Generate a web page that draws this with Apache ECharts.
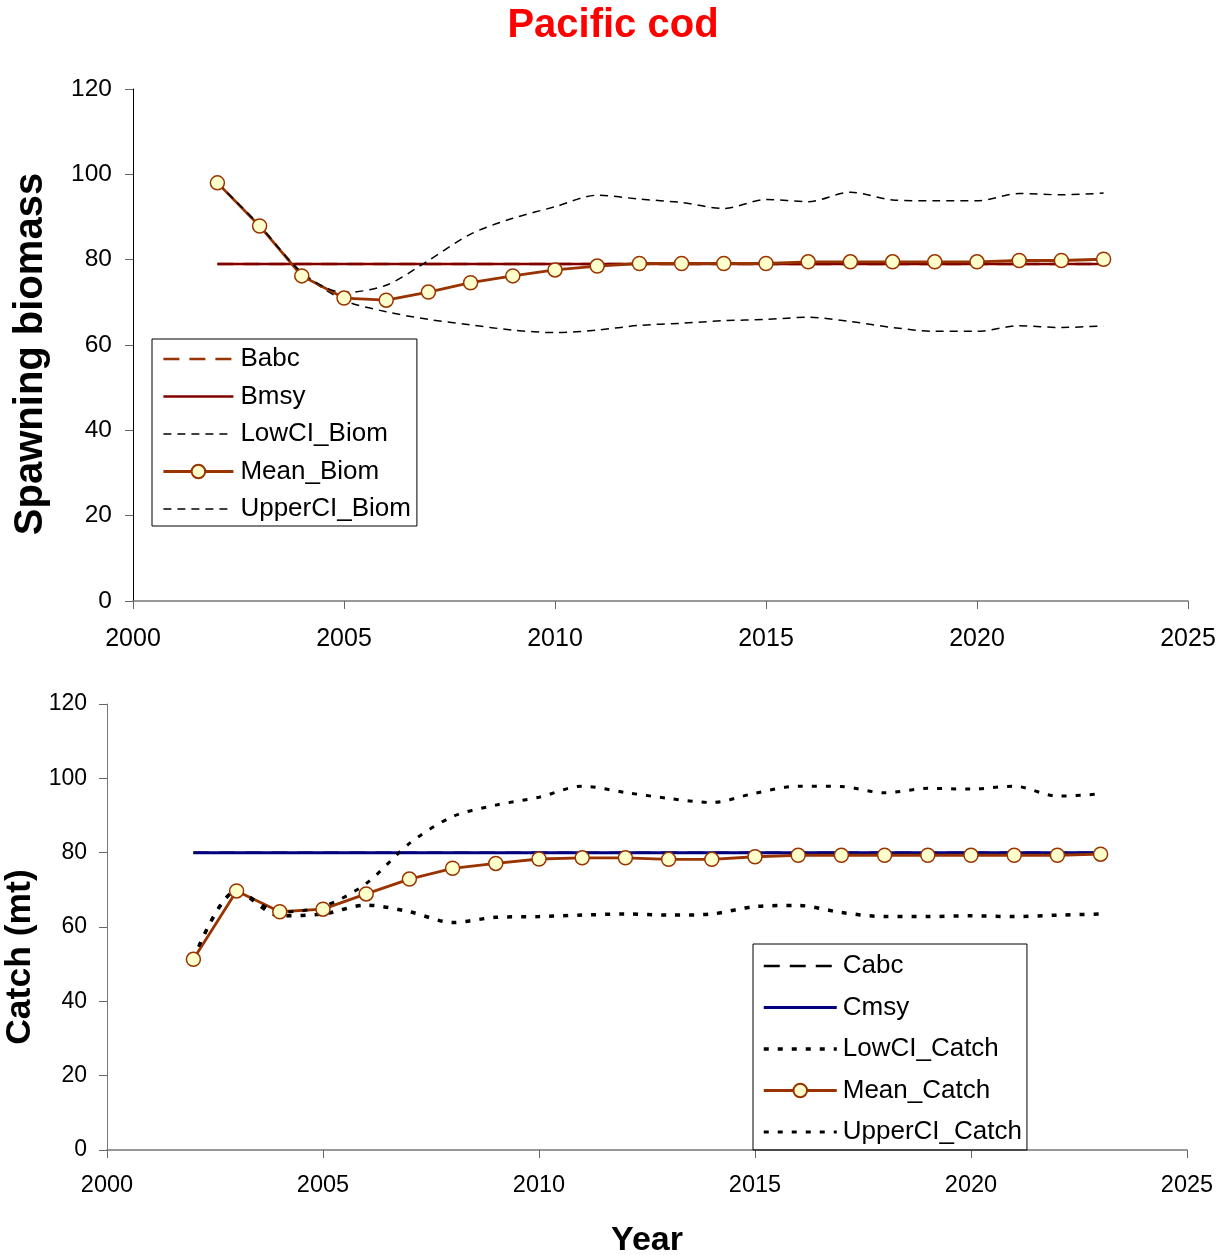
<!DOCTYPE html>
<html>
<head>
<meta charset="utf-8">
<script src="https://cdn.jsdelivr.net/npm/echarts@6/dist/echarts.min.js"></script>
<style>
  html, body { margin: 0; padding: 0; background: #fff; }
  #chart { width: 1228px; height: 1255px; }
</style>
</head>
<body>
<div id="chart"></div>
<script>
// years shared by both panels
var years = [2002, 2003, 2004, 2005, 2006, 2007, 2008, 2009, 2010, 2011, 2012,
             2013, 2014, 2015, 2016, 2017, 2018, 2019, 2020, 2021, 2022, 2023];

// spawning biomass panel
var babc = [79, 79, 79, 79, 79, 79, 79, 79, 79, 79, 79, 79, 79, 79, 79, 79, 79, 79, 79, 79, 79, 79];
var bmsy = [79, 79, 79, 79, 79, 79, 79, 79, 79, 79, 79, 79, 79, 79, 79, 79, 79, 79, 79, 79, 79, 79];
var lowBiom = [98, 88, 77, 70.5, 67.8, 66, 64.7, 63.5, 62.9, 63.5, 64.6,
               65.1, 65.7, 66, 66.5, 65.5, 64.1, 63.2, 63.2, 64.5, 64.1, 64.5];
var meanBiom = [98, 87.9, 76.2, 71, 70.5, 72.4, 74.6, 76.2, 77.6, 78.5, 79.1,
                79.1, 79.1, 79.1, 79.5, 79.5, 79.5, 79.5, 79.5, 79.8, 79.8, 80.1];
var upperBiom = [98, 88, 77, 72.3, 74, 79.8, 86, 89.7, 92.4, 95.1, 94.2,
                 93.4, 92, 94.1, 93.6, 95.8, 94, 93.8, 93.8, 95.5, 95.2, 95.6];

// catch panel
var cabc = [80, 80, 80, 80, 80, 80, 80, 80, 80, 80, 80, 80, 80, 80, 80, 80, 80, 80, 80, 80, 80, 80];
var cmsy = [80, 80, 80, 80, 80, 80, 80, 80, 80, 80, 80, 80, 80, 80, 80, 80, 80, 80, 80, 80, 80, 80];
var lowCatch = [51.3, 69.7, 63, 63.5, 65.9, 64.1, 61.2, 62.6, 62.8, 63.2, 63.5,
                63.2, 63.5, 65.5, 65.8, 63.9, 62.8, 62.8, 63, 62.8, 63.2, 63.5];
var meanCatch = [51.3, 69.7, 64.1, 64.8, 68.9, 72.9, 75.8, 77.1, 78.3, 78.6, 78.6,
                 78.2, 78.2, 78.9, 79.3, 79.3, 79.3, 79.3, 79.3, 79.3, 79.3, 79.6];
var upperCatch = [51.3, 69.7, 64, 65.5, 71.7, 82.5, 89.7, 92.8, 94.9, 97.9, 96.2,
                  94.6, 93.5, 96, 97.9, 97.8, 96.1, 97.3, 97.1, 97.9, 95.2, 95.8];

var yTicks = [0, 20, 40, 60, 80, 100, 120];
var xTicks = [2000, 2005, 2010, 2015, 2020, 2025];

function pairs(vals) {
    return years.map(function (y, i) { return [y, vals[i]]; });
}

var FONT = 'Liberation Sans, Arial, sans-serif';
var brown = '#993300';
var markerStyle = { color: '#ffffcc', borderColor: brown, borderWidth: 1.5 };

function xAxisFor(idx, size, margin, extra) {
    var ax = {
        type: 'value', gridIndex: idx,
        min: xTicks[0], max: xTicks[xTicks.length - 1], interval: 5,
        splitLine: { show: false },
        axisLine: { onZero: false, lineStyle: { color: '#777', width: 1.5 } },
        axisTick: { show: true, length: 8, lineStyle: { color: '#666' } },
        axisLabel: { color: '#000', fontFamily: FONT, fontSize: size, margin: margin,
                     formatter: function (v) { return String(v); } }
    };
    return Object.assign(ax, extra || {});
}

function yAxisFor(idx, size, margin, lineColor, name, nameSize, gap, shift) {
    return {
        type: 'value', gridIndex: idx,
        min: yTicks[0], max: yTicks[yTicks.length - 1], interval: 20,
        splitLine: { show: false },
        axisLine: { show: true, lineStyle: { color: lineColor, width: 1 } },
        axisTick: { show: true, length: 8, lineStyle: { color: '#666' } },
        axisLabel: { color: '#000', fontFamily: FONT, fontSize: size, margin: margin },
        name: name, nameLocation: 'middle', nameGap: gap,
        nameTextStyle: { color: '#000', fontFamily: FONT, fontSize: nameSize, fontWeight: 'bold',
                         padding: [0, shift, 0, 0] }
    };
}

// legend entries: plain lines hide the marker the legend icon would add
function legendItems(names, markerName) {
    return names.map(function (n) {
        return n === markerName ? { name: n } : { name: n, itemStyle: { opacity: 0 } };
    });
}

var option = {
    backgroundColor: '#fff',
    animation: false,
    title: {
        text: 'Pacific cod', left: 608, top: 1, textAlign: 'center',
        textStyle: { color: '#ff0000', fontFamily: FONT, fontSize: 40, fontWeight: 'bold' }
    },
    grid: [
        { left: 133, right: 40, top: 89, height: 512, outerBoundsMode: 'none' },
        { left: 107, right: 41, top: 704, height: 446, outerBoundsMode: 'none' }
    ],
    legend: [
        {
            orient: 'vertical', left: 152, top: 339,
            data: legendItems(['Babc', 'Bmsy', 'LowCI_Biom', 'Mean_Biom', 'UpperCI_Biom'], 'Mean_Biom'),
            itemWidth: 70, itemHeight: 17, itemGap: 11.5,
            padding: [7, 6, 4, 10],
            borderColor: '#000', borderWidth: 1,
            lineStyle: { width: 'inherit' },
            textStyle: { color: '#000', fontFamily: FONT, fontSize: 26, padding: [0, 0, 0, 2] }
        },
        {
            orient: 'vertical', left: 753, top: 944,
            data: legendItems(['Cabc', 'Cmsy', 'LowCI_Catch', 'Mean_Catch', 'UpperCI_Catch'], 'Mean_Catch'),
            itemWidth: 73, itemHeight: 17, itemGap: 15.5,
            padding: [9, 5, 5, 9],
            borderColor: '#000', borderWidth: 1,
            lineStyle: { width: 'inherit' },
            textStyle: { color: '#000', fontFamily: FONT, fontSize: 26, padding: [0, 0, 0, 1] }
        }
    ],
    xAxis: [
        xAxisFor(0, 25, 26),
        xAxisFor(1, 23.5, 24, {
            name: 'Year', nameLocation: 'middle', nameGap: 74,
            nameTextStyle: { color: '#000', fontFamily: FONT, fontSize: 34, fontWeight: 'bold' }
        })
    ],
    yAxis: [
        yAxisFor(0, 24.5, 21, '#000', 'Spawning biomass', 40, 82, 18),
        yAxisFor(1, 23, 20, '#777', 'Catch (mt)', 35.5, 62, 60)
    ],
    series: [
        { name: 'Babc', type: 'line', xAxisIndex: 0, yAxisIndex: 0, data: pairs(babc),
          symbol: 'none',
          lineStyle: { color: brown, width: 2.5, type: [16, 10] }, itemStyle: { color: brown } },
        { name: 'Bmsy', type: 'line', xAxisIndex: 0, yAxisIndex: 0, data: pairs(bmsy),
          symbol: 'none', lineStyle: { color: '#800000', width: 2.5 }, itemStyle: { color: '#800000' } },
        { name: 'LowCI_Biom', type: 'line', xAxisIndex: 0, yAxisIndex: 0, data: pairs(lowBiom),
          symbol: 'none', smooth: 0.3,
          lineStyle: { color: '#000', width: 1.5, type: [8, 6] }, itemStyle: { color: '#000' } },
        { name: 'Mean_Biom', type: 'line', xAxisIndex: 0, yAxisIndex: 0, data: pairs(meanBiom),
          symbol: 'circle', symbolSize: 14,
          lineStyle: { color: brown, width: 2.8 }, itemStyle: markerStyle, z: 3 },
        { name: 'UpperCI_Biom', type: 'line', xAxisIndex: 0, yAxisIndex: 0, data: pairs(upperBiom),
          symbol: 'none', smooth: 0.3,
          lineStyle: { color: '#000', width: 1.5, type: [8, 6] }, itemStyle: { color: '#000' } },

        { name: 'Cabc', type: 'line', xAxisIndex: 1, yAxisIndex: 1, data: pairs(cabc),
          symbol: 'none', lineStyle: { color: '#000', width: 2.5, type: [16, 10] }, itemStyle: { color: '#000' } },
        { name: 'Cmsy', type: 'line', xAxisIndex: 1, yAxisIndex: 1, data: pairs(cmsy),
          symbol: 'none', lineStyle: { color: '#000080', width: 3 }, itemStyle: { color: '#000080' } },
        { name: 'LowCI_Catch', type: 'line', xAxisIndex: 1, yAxisIndex: 1, data: pairs(lowCatch),
          symbol: 'none', smooth: 0.3,
          lineStyle: { color: '#000', width: 3.5, type: [5, 9] }, itemStyle: { color: '#000' } },
        { name: 'Mean_Catch', type: 'line', xAxisIndex: 1, yAxisIndex: 1, data: pairs(meanCatch),
          symbol: 'circle', symbolSize: 14,
          lineStyle: { color: brown, width: 2.8 }, itemStyle: markerStyle, z: 3 },
        { name: 'UpperCI_Catch', type: 'line', xAxisIndex: 1, yAxisIndex: 1, data: pairs(upperCatch),
          symbol: 'none', smooth: 0.3,
          lineStyle: { color: '#000', width: 3, type: [5, 9] }, itemStyle: { color: '#000' } }
    ]
};

var chart = echarts.init(document.getElementById('chart'));
chart.setOption(option);
</script>
</body>
</html>
